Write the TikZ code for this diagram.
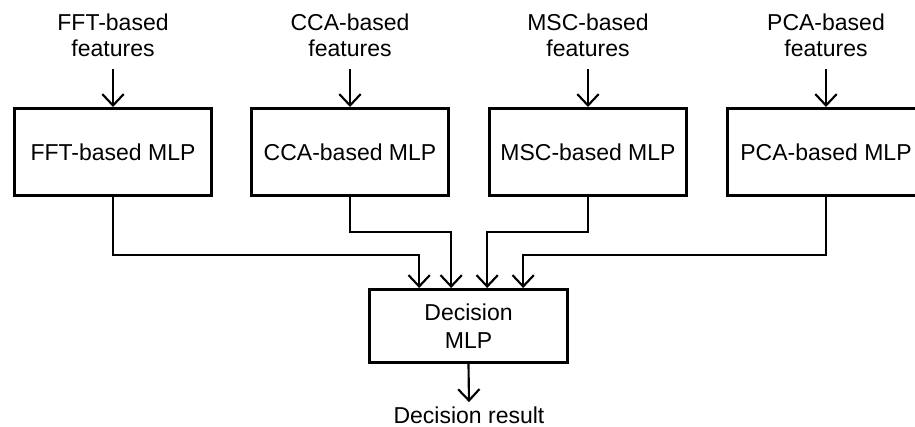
\documentclass[tikz,border=0pt]{standalone}
\usepackage{fontspec}
\setmainfont{Liberation Sans}
\usetikzlibrary{arrows.meta}

\begin{document}
\begin{tikzpicture}[x=0.75pt, y=-0.75pt, >={Straight Barb[length=8.5pt, width=16pt]},
  font=\fontsize{17.25}{19.8}\selectfont,
  mlp/.style={draw, line width=2.2pt, minimum width=147.8pt, minimum height=65.3pt, inner sep=0pt},
  feat/.style={align=center, anchor=south, inner xsep=2pt, inner ysep=9pt, font=\fontsize{17.25}{19.2}\selectfont},
  link/.style={->, line width=1.6pt}]
\clip (0,0) rectangle (915,426);
% Row 1: feature inputs and the four MLPs
\node[feat] (fft) at (113,69) {FFT-based\\features};
\node[feat] (cca) at (350,69) {CCA-based\\features};
\node[feat] (msc) at (588,69) {MSC-based\\features};
\node[feat] (pca) at (826,69) {PCA-based\\features};
\node[mlp] (mfft) at (113,152) {FFT-based MLP};
\node[mlp] (mcca) at (350,152) {CCA-based MLP};
\node[mlp] (mmsc) at (588,152) {MSC-based MLP};
\node[mlp] (mpca) at (826,152) {PCA-based MLP};
\foreach \f/\m in {fft/mfft, cca/mcca, msc/mmsc, pca/mpca}{ \draw[link] (\f.south) -- (\m.north); }
% Row 2: decision MLP and its output
\node[mlp, align=center, minimum width=148.5pt, minimum height=54.8pt, font=\fontsize{17.25}{21}\selectfont] (dec) at (468.5,326) {Decision\\MLP};
\node[anchor=base, inner sep=3pt] (res) at (469,423) {Decision result};
\draw[link] (mfft.south) -- ++(0,58) -| ([xshift=-37pt]dec.north);
\draw[link] (mcca.south) -- ++(0,35) -| ([xshift=-13pt]dec.north);
\draw[link] (mmsc.south) -- ++(0,35) -| ([xshift=14pt]dec.north);
\draw[link] (mpca.south) -- ++(0,58) -| ([xshift=41pt]dec.north);
\draw[link] (dec.south) -- (res.north);
\end{tikzpicture}
\end{document}
